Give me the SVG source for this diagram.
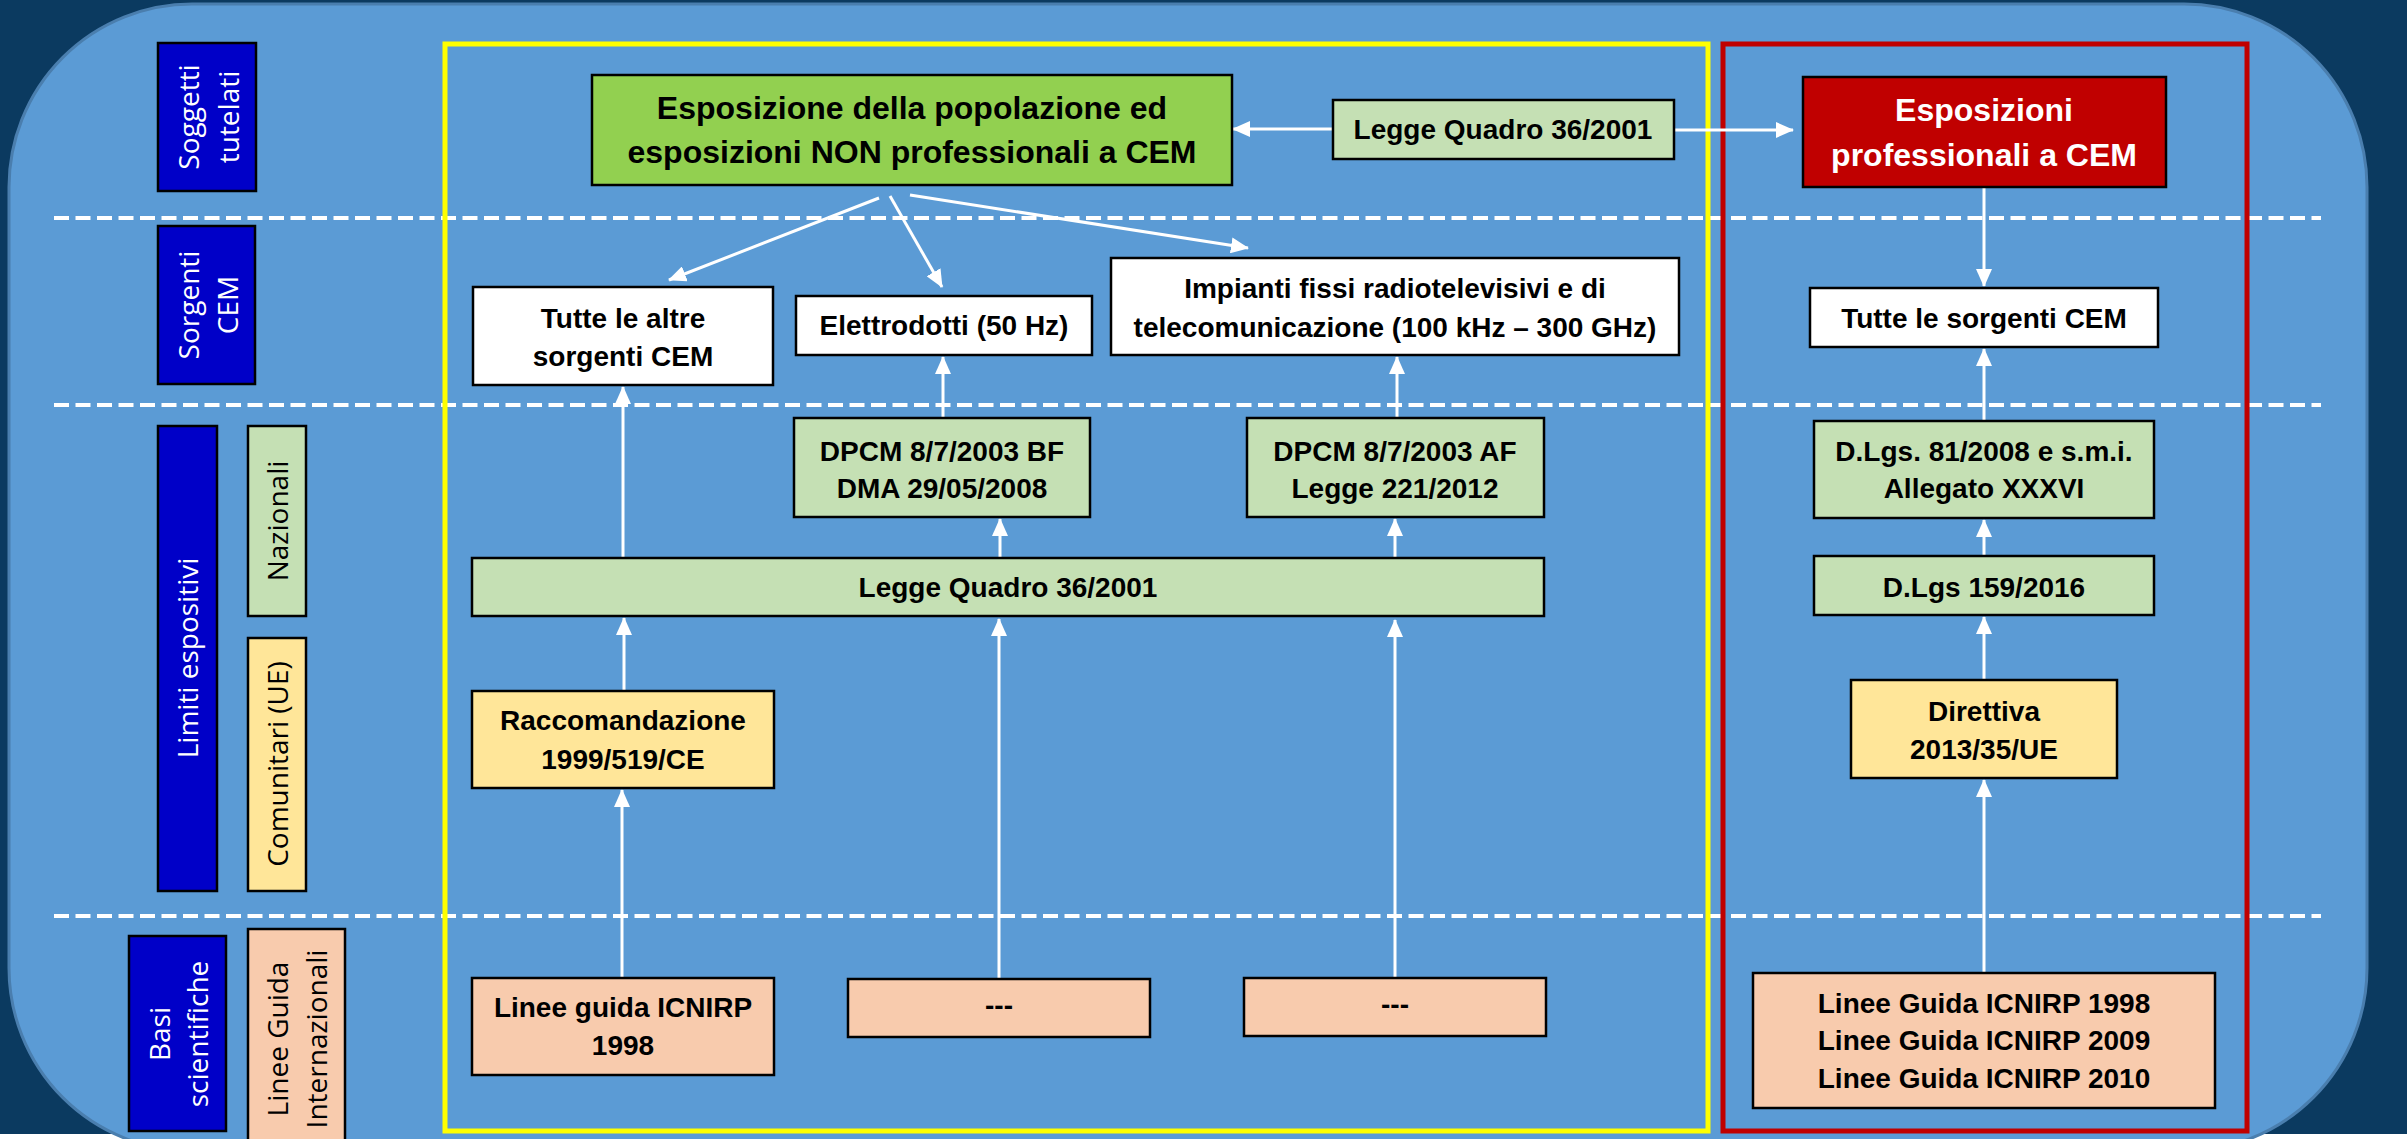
<svg xmlns="http://www.w3.org/2000/svg" width="2407" height="1139" viewBox="0 0 2407 1139">
<defs>
<style>
.box{stroke:#000;stroke-width:2.5}
.t{font-family:"Liberation Sans",Arial,sans-serif;font-weight:bold;font-size:28px;fill:#000;text-anchor:middle}
.big{font-size:32px}
.w{fill:#fff}
.lab{font-family:"Open Sans","Noto Sans",sans-serif;font-size:28px;text-anchor:middle}
.dash{stroke:#fff;stroke-width:4;stroke-dasharray:15 6.5;fill:none}
.arr{stroke:#fff;stroke-width:3;fill:none;marker-end:url(#ah)}
.navy{fill:#0000c8}
.lg{fill:#c5e0b4}
.ly{fill:#ffe699}
.pe{fill:#f8cbad}
.wh{fill:#fff}
</style>
<marker id="ah" viewBox="0 0 18 16" refX="17" refY="8" markerWidth="18" markerHeight="16" markerUnits="userSpaceOnUse" orient="auto">
<path d="M0,0 L18,8 L0,16 z" fill="#fff"/>
</marker>
</defs>

<!-- background -->
<rect x="0" y="0" width="2407" height="1139" fill="#fff"/>
<rect x="0" y="0" width="2407" height="1134" fill="#0b3a60"/>
<rect x="9" y="4" width="2358" height="1147" rx="183" ry="183" fill="#5b9bd5" stroke="#4a7eae" stroke-width="3"/>

<!-- dashed separators -->
<g id="separators">
<line class="dash" x1="54" y1="218" x2="2321" y2="218"/>
<line class="dash" x1="54" y1="405" x2="2321" y2="405"/>
<line class="dash" x1="54" y1="916" x2="2321" y2="916"/>
</g>

<!-- frames -->
<rect id="frame-non-prof" x="445" y="44" width="1263" height="1087" fill="none" stroke="#ffff00" stroke-width="5"/>
<rect id="frame-prof" x="1723" y="44" width="524" height="1087" fill="none" stroke="#c00000" stroke-width="5"/>

<!-- left labels -->
<g id="lab-soggetti">
<rect class="box navy" x="158" y="43" width="98" height="148"/>
<g transform="translate(0,117) rotate(-90)"><text class="lab w" x="0" y="199">Soggetti</text><text class="lab w" x="0" y="239">tutelati</text></g>
</g>
<g id="lab-sorgenti">
<rect class="box navy" x="158" y="226" width="97" height="158"/>
<g transform="translate(0,305) rotate(-90)"><text class="lab w" x="0" y="199">Sorgenti</text><text class="lab w" x="0" y="238">CEM</text></g>
</g>
<g id="lab-limiti">
<rect class="box navy" x="158" y="426" width="59" height="465"/>
<g transform="translate(0,658) rotate(-90)"><text class="lab w" x="0" y="198">Limiti espositivi</text></g>
</g>
<g id="lab-nazionali">
<rect class="box lg" x="248" y="426" width="58" height="190"/>
<g transform="translate(0,521) rotate(-90)"><text class="lab" x="0" y="288">Nazionali</text></g>
</g>
<g id="lab-comunitari">
<rect class="box ly" x="248" y="638" width="58" height="253"/>
<g transform="translate(0,764) rotate(-90)"><text class="lab" x="0" y="288">Comunitari (UE)</text></g>
</g>
<g id="lab-basi">
<rect class="box navy" x="129" y="936" width="97" height="195"/>
<g transform="translate(0,1034) rotate(-90)"><text class="lab w" x="0" y="170">Basi</text><text class="lab w" x="0" y="208">scientifiche</text></g>
</g>
<g id="lab-linee">
<rect class="box pe" x="248" y="929" width="97" height="221"/>
<g transform="translate(0,1039) rotate(-90)"><text class="lab" x="0" y="288">Linee Guida</text><text class="lab" x="0" y="327">Internazionali</text></g>
</g>

<!-- connectors -->
<g id="connectors">
<line class="arr" x1="1333" y1="129" x2="1233" y2="129"/>
<line class="arr" x1="1674" y1="130" x2="1793" y2="130"/>
<line class="arr" x1="879" y1="198" x2="669" y2="280"/>
<line class="arr" x1="890" y1="196" x2="942" y2="287"/>
<line class="arr" x1="910" y1="195" x2="1248" y2="248"/>
<line class="arr" x1="623" y1="558" x2="623" y2="387"/>
<line class="arr" x1="943" y1="418" x2="943" y2="357"/>
<line class="arr" x1="1397" y1="421" x2="1397" y2="357"/>
<line class="arr" x1="1000" y1="558" x2="1000" y2="519"/>
<line class="arr" x1="1395" y1="558" x2="1395" y2="519"/>
<line class="arr" x1="624" y1="691" x2="624" y2="618"/>
<line class="arr" x1="622" y1="978" x2="622" y2="790"/>
<line class="arr" x1="999" y1="979" x2="999" y2="619"/>
<line class="arr" x1="1395" y1="978" x2="1395" y2="620"/>
<line class="arr" x1="1984" y1="187" x2="1984" y2="286"/>
<line class="arr" x1="1984" y1="421" x2="1984" y2="349"/>
<line class="arr" x1="1984" y1="557" x2="1984" y2="520"/>
<line class="arr" x1="1984" y1="680" x2="1984" y2="617"/>
<line class="arr" x1="1984" y1="973" x2="1984" y2="780"/>
</g>

<!-- nodes -->
<g id="n-esp-pop">
<rect class="box" fill="#92d050" x="592" y="75" width="640" height="110"/>
<text class="t big" x="912" y="119">Esposizione della popolazione ed</text>
<text class="t big" x="912" y="163">esposizioni NON professionali a CEM</text>
</g>
<g id="n-legge-top">
<rect class="box lg" x="1333" y="100" width="341" height="59"/>
<text class="t" x="1503" y="139">Legge Quadro 36/2001</text>
</g>
<g id="n-esp-prof">
<rect class="box" fill="#c00000" x="1803" y="77" width="363" height="110"/>
<text class="t big w" x="1984" y="121">Esposizioni</text>
<text class="t big w" x="1984" y="166">professionali a CEM</text>
</g>
<g id="n-tutte-altre">
<rect class="box wh" x="473" y="287" width="300" height="98"/>
<text class="t" x="623" y="328">Tutte le altre</text>
<text class="t" x="623" y="366">sorgenti CEM</text>
</g>
<g id="n-elettrodotti">
<rect class="box wh" x="796" y="296" width="296" height="59"/>
<text class="t" x="944" y="335">Elettrodotti (50 Hz)</text>
</g>
<g id="n-impianti">
<rect class="box wh" x="1111" y="258" width="568" height="97"/>
<text class="t" x="1395" y="298">Impianti fissi radiotelevisivi e di</text>
<text class="t" x="1395" y="337">telecomunicazione (100 kHz – 300 GHz)</text>
</g>
<g id="n-tutte-sorgenti">
<rect class="box wh" x="1810" y="288" width="348" height="59"/>
<text class="t" x="1984" y="328">Tutte le sorgenti CEM</text>
</g>
<g id="n-dpcm-bf">
<rect class="box lg" x="794" y="418" width="296" height="99"/>
<text class="t" x="942" y="461">DPCM 8/7/2003 BF</text>
<text class="t" x="942" y="498">DMA 29/05/2008</text>
</g>
<g id="n-dpcm-af">
<rect class="box lg" x="1247" y="418" width="297" height="99"/>
<text class="t" x="1395" y="461">DPCM 8/7/2003 AF</text>
<text class="t" x="1395" y="498">Legge 221/2012</text>
</g>
<g id="n-dlgs81">
<rect class="box lg" x="1814" y="421" width="340" height="97"/>
<text class="t" x="1984" y="461">D.Lgs. 81/2008 e s.m.i.</text>
<text class="t" x="1984" y="498">Allegato XXXVI</text>
</g>
<g id="n-legge-big">
<rect class="box lg" x="472" y="558" width="1072" height="58"/>
<text class="t" x="1008" y="597">Legge Quadro 36/2001</text>
</g>
<g id="n-dlgs159">
<rect class="box lg" x="1814" y="556" width="340" height="59"/>
<text class="t" x="1984" y="597">D.Lgs 159/2016</text>
</g>
<g id="n-raccomandazione">
<rect class="box ly" x="472" y="691" width="302" height="97"/>
<text class="t" x="623" y="730">Raccomandazione</text>
<text class="t" x="623" y="769">1999/519/CE</text>
</g>
<g id="n-direttiva">
<rect class="box ly" x="1851" y="680" width="266" height="98"/>
<text class="t" x="1984" y="721">Direttiva</text>
<text class="t" x="1984" y="759">2013/35/UE</text>
</g>
<g id="n-icnirp1998">
<rect class="box pe" x="472" y="978" width="302" height="97"/>
<text class="t" x="623" y="1017">Linee guida ICNIRP</text>
<text class="t" x="623" y="1055">1998</text>
</g>
<g id="n-dash1">
<rect class="box pe" x="848" y="979" width="302" height="58"/>
<text class="t" x="999" y="1015">---</text>
</g>
<g id="n-dash2">
<rect class="box pe" x="1244" y="978" width="302" height="58"/>
<text class="t" x="1395" y="1014">---</text>
</g>
<g id="n-icnirp-all">
<rect class="box pe" x="1753" y="973" width="462" height="135"/>
<text class="t" x="1984" y="1013">Linee Guida ICNIRP 1998</text>
<text class="t" x="1984" y="1050">Linee Guida ICNIRP 2009</text>
<text class="t" x="1984" y="1088">Linee Guida ICNIRP 2010</text>
</g>
</svg>
